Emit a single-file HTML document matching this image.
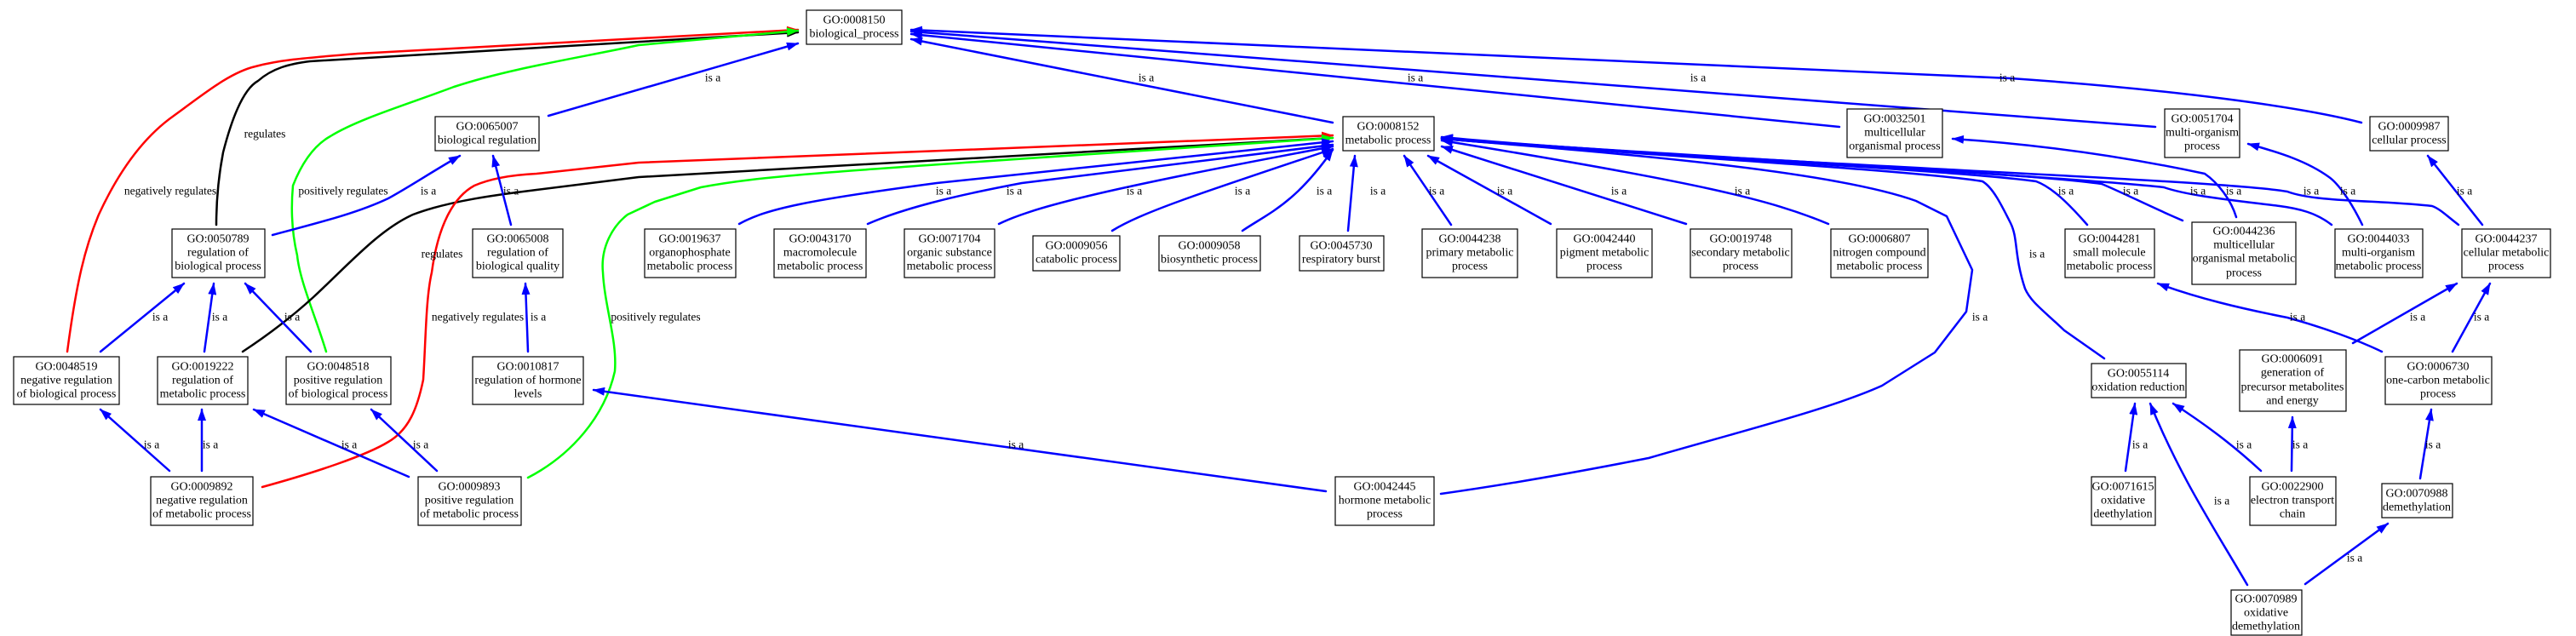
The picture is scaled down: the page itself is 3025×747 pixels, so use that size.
<!DOCTYPE html>
<html><head><meta charset="utf-8"><style>
html,body{margin:0;padding:0;background:#fff;}
svg{display:block;}
text{font-family:"Liberation Serif",serif;font-size:14px;fill:#000;}
.n rect{fill:#fff;stroke:#000;stroke-width:1.2;}
.n text{text-anchor:middle;dominant-baseline:central;}
.l{text-anchor:middle;dominant-baseline:central;font-size:13.5px;}
path{fill:none;stroke-width:2.5;stroke-linejoin:round;stroke-linecap:round;}
.b{stroke:#0000ff;} .r{stroke:#ff0000;} .g{stroke:#00ff00;} .k{stroke:#000;}
</style></head><body>
<svg width="3025" height="747" viewBox="0 0 3025 747" xmlns="http://www.w3.org/2000/svg">
<defs>
<marker id="mb" markerUnits="userSpaceOnUse" markerWidth="14" markerHeight="10" refX="13" refY="5" orient="auto"><path d="M0,0 L14,5 L0,10 z" style="fill:#0000ff;stroke:none"/></marker>
<marker id="mr" markerUnits="userSpaceOnUse" markerWidth="14" markerHeight="10" refX="13" refY="5" orient="auto"><path d="M0,0 L14,5 L0,10 z" style="fill:#ff0000;stroke:none"/></marker>
<marker id="mg" markerUnits="userSpaceOnUse" markerWidth="14" markerHeight="10" refX="13" refY="5" orient="auto"><path d="M0,0 L14,5 L0,10 z" style="fill:#00ff00;stroke:none"/></marker>
<marker id="mk" markerUnits="userSpaceOnUse" markerWidth="14" markerHeight="10" refX="13" refY="5" orient="auto"><path d="M0,0 L14,5 L0,10 z" style="fill:#000;stroke:none"/></marker>
</defs>

<!-- regulation edges to 0008150 -->
<path class="r" marker-end="url(#mr)" d="M79,413 C90,330 100,290 116,252 C140,200 170,160 204,136 C240,110 270,85 300,78 C330,70 360,68 420,63 L937,35"/>
<path class="k" marker-end="url(#mk)" d="M254,264 C254,230 258,200 262,179 C272,140 285,105 303,95 C320,80 340,75 364,72 L937,38"/>
<path class="g" marker-end="url(#mg)" d="M383,413 C370,370 352,330 349,300 C342,270 342,240 344,218 C355,190 370,170 388,160 C420,140 480,122 533,102 C600,80 680,68 750,53 L937,36"/>
<!-- regulation edges to 0008152 -->
<path class="k" marker-end="url(#mk)" d="M285,413 C320,390 345,370 368,349 C410,310 445,270 485,252 C530,235 590,228 630,223 L750,208 L1565,162"/>
<path class="r" marker-end="url(#mr)" d="M308,572 C370,555 430,535 456,519 C480,505 490,480 497,446 C500,400 500,350 507,320 C515,260 535,230 557,218 C580,208 610,205 630,204 L750,191 L1565,159"/>
<path class="g" marker-end="url(#mg)" d="M620,561 C670,535 710,490 722,436 C725,400 710,360 708,320 C705,290 720,265 737,252 L769,237 L823,220 C900,205 1000,200 1565,162"/>

<!-- is a edges left -->
<path class="b" marker-end="url(#mb)" d="M320,276 C380,260 420,250 456,233 C480,220 510,200 540,183"/>
<path class="b" marker-end="url(#mb)" d="M644,136 L937,51"/>
<path class="b" marker-end="url(#mb)" d="M600,264 L579,183"/>
<path class="b" marker-end="url(#mb)" d="M620,413 L617,333"/>
<path class="b" marker-end="url(#mb)" d="M118,413 L216,333"/>
<path class="b" marker-end="url(#mb)" d="M240,413 L251,333"/>
<path class="b" marker-end="url(#mb)" d="M365,413 L288,333"/>
<path class="b" marker-end="url(#mb)" d="M199,553 L118,481"/>
<path class="b" marker-end="url(#mb)" d="M237,553 L237,481"/>
<path class="b" marker-end="url(#mb)" d="M480,560 L298,481"/>
<path class="b" marker-end="url(#mb)" d="M513,553 L436,481"/>
<path class="b" marker-end="url(#mb)" d="M1557,577 L697,458"/>

<!-- to 0008150 from right -->
<path class="b" marker-end="url(#mb)" d="M1565,144 L1070,46"/>
<path class="b" marker-end="url(#mb)" d="M2160,149 L1070,40"/>
<path class="b" marker-end="url(#mb)" d="M2531,149 L1070,37"/>
<path class="b" marker-end="url(#mb)" d="M2773,144 C2700,125 2550,105 2361,92 L1070,35"/>

<!-- children of 0008152, left side -->
<path class="b" marker-end="url(#mb)" d="M868,263 C900,245 950,235 1100,215 L1565,166"/>
<path class="b" marker-end="url(#mb)" d="M1019,263 C1060,245 1120,230 1200,215 L1565,170"/>
<path class="b" marker-end="url(#mb)" d="M1173,263 C1210,245 1280,225 1565,172"/>
<path class="b" marker-end="url(#mb)" d="M1306,271 C1340,250 1400,230 1565,175"/>
<path class="b" marker-end="url(#mb)" d="M1459,271 C1490,250 1520,240 1565,176"/>
<path class="b" marker-end="url(#mb)" d="M1583,271 L1591,183"/>
<path class="b" marker-end="url(#mb)" d="M1704,264 L1649,183"/>
<path class="b" marker-end="url(#mb)" d="M1821,263 L1677,183"/>
<path class="b" marker-end="url(#mb)" d="M1980,263 L1693,172"/>
<path class="b" marker-end="url(#mb)" d="M2147,263 C2080,235 2000,215 1693,165"/>
<!-- right side into 0008152 -->
<path class="b" marker-end="url(#mb)" d="M1692,580 C1800,565 1900,545 1936,538 C2050,505 2150,480 2210,453 L2272,414 L2309,366 L2316,317 L2286,254 L2250,236 C2150,200 1900,180 1693,163"/>
<path class="b" marker-end="url(#mb)" d="M2471,421 L2424,388 C2400,365 2385,355 2378,339 C2365,300 2370,280 2361,262 C2350,240 2340,220 2328,213 C2250,200 1900,180 1693,163"/>
<path class="b" marker-end="url(#mb)" d="M2451,264 C2430,240 2410,220 2391,213 C2300,200 1900,180 1693,163"/>
<path class="b" marker-end="url(#mb)" d="M2563,259 C2530,245 2490,225 2468,216 C2350,200 1900,180 1693,162"/>
<path class="b" marker-end="url(#mb)" d="M2738,264 C2720,250 2700,245 2677,242 C2620,235 2570,230 2541,220 C2400,205 1900,180 1693,162"/>
<path class="b" marker-end="url(#mb)" d="M2887,264 C2875,255 2865,245 2856,242 C2800,235 2720,238 2686,225 C2600,210 2000,190 1693,161"/>
<!-- other right edges -->
<path class="b" marker-end="url(#mb)" d="M2626,255 C2620,235 2605,215 2589,204 C2500,185 2400,170 2293,163"/>
<path class="b" marker-end="url(#mb)" d="M2774,264 C2760,235 2745,215 2735,208 C2710,190 2680,180 2640,169"/>
<path class="b" marker-end="url(#mb)" d="M2915,264 L2851,183"/>
<path class="b" marker-end="url(#mb)" d="M2797,413 C2770,400 2730,385 2686,373 C2630,362 2580,350 2534,333"/>
<path class="b" marker-end="url(#mb)" d="M2763,403 L2885,333"/>
<path class="b" marker-end="url(#mb)" d="M2880,413 L2924,333"/>
<path class="b" marker-end="url(#mb)" d="M2496,553 L2507,474"/>
<path class="b" marker-end="url(#mb)" d="M2655,553 C2630,530 2600,505 2552,474"/>
<path class="b" marker-end="url(#mb)" d="M2691,553 L2692,490"/>
<path class="b" marker-end="url(#mb)" d="M2639,687 C2600,620 2560,560 2525,474"/>
<path class="b" marker-end="url(#mb)" d="M2842,562 L2855,481"/>
<path class="b" marker-end="url(#mb)" d="M2707,686 L2804,615"/>

<!-- edge labels -->
<g>
<text class="l" x="311" y="157">regulates</text>
<text class="l" x="200" y="224">negatively regulates</text>
<text class="l" x="403" y="224">positively regulates</text>
<text class="l" x="503" y="224">is a</text>
<text class="l" x="600" y="224">is a</text>
<text class="l" x="837" y="91">is a</text>
<text class="l" x="519" y="298">regulates</text>
<text class="l" x="561" y="372">negatively regulates</text>
<text class="l" x="632" y="372">is a</text>
<text class="l" x="770" y="372">positively regulates</text>
<text class="l" x="188" y="372">is a</text>
<text class="l" x="258" y="372">is a</text>
<text class="l" x="343" y="372">is a</text>
<text class="l" x="178" y="522">is a</text>
<text class="l" x="247" y="522">is a</text>
<text class="l" x="410" y="522">is a</text>
<text class="l" x="494" y="522">is a</text>
<text class="l" x="1193" y="522">is a</text>
<text class="l" x="1346" y="91">is a</text>
<text class="l" x="1662" y="91">is a</text>
<text class="l" x="1994" y="91">is a</text>
<text class="l" x="2357" y="91">is a</text>
<text class="l" x="1108" y="224">is a</text>
<text class="l" x="1191" y="224">is a</text>
<text class="l" x="1332" y="224">is a</text>
<text class="l" x="1459" y="224">is a</text>
<text class="l" x="1555" y="224">is a</text>
<text class="l" x="1618" y="224">is a</text>
<text class="l" x="1687" y="224">is a</text>
<text class="l" x="1767" y="224">is a</text>
<text class="l" x="1901" y="224">is a</text>
<text class="l" x="2046" y="224">is a</text>
<text class="l" x="2426" y="224">is a</text>
<text class="l" x="2502" y="224">is a</text>
<text class="l" x="2581" y="224">is a</text>
<text class="l" x="2623" y="224">is a</text>
<text class="l" x="2714" y="224">is a</text>
<text class="l" x="2757" y="224">is a</text>
<text class="l" x="2894" y="224">is a</text>
<text class="l" x="2392" y="298">is a</text>
<text class="l" x="2325" y="372">is a</text>
<text class="l" x="2698" y="372">is a</text>
<text class="l" x="2839" y="372">is a</text>
<text class="l" x="2914" y="372">is a</text>
<text class="l" x="2513" y="522">is a</text>
<text class="l" x="2635" y="522">is a</text>
<text class="l" x="2701" y="522">is a</text>
<text class="l" x="2857" y="522">is a</text>
<text class="l" x="2609" y="588">is a</text>
<text class="l" x="2765" y="655">is a</text>
</g>

<!-- nodes -->
<g class="n">
<rect x="947" y="12" width="112" height="40"/><text x="1003" y="24">GO:0008150</text><text x="1003" y="40">biological_process</text>
<rect x="511" y="137" width="122" height="40"/><text x="572" y="149">GO:0065007</text><text x="572" y="165">biological regulation</text>
<rect x="1577" y="137" width="107" height="40"/><text x="1630" y="149">GO:0008152</text><text x="1630" y="165">metabolic process</text>
<rect x="2169" y="128" width="112" height="57"/><text x="2225" y="140">GO:0032501</text><text x="2225" y="156">multicellular</text><text x="2225" y="172">organismal process</text>
<rect x="2542" y="128" width="88" height="57"/><text x="2586" y="140">GO:0051704</text><text x="2586" y="156">multi-organism</text><text x="2586" y="172">process</text>
<rect x="2783" y="137" width="92" height="40"/><text x="2829" y="149">GO:0009987</text><text x="2829" y="165">cellular process</text>

<rect x="202" y="269" width="109" height="57"/><text x="256" y="281">GO:0050789</text><text x="256" y="297">regulation of</text><text x="256" y="313">biological process</text>
<rect x="555" y="269" width="106" height="57"/><text x="608" y="281">GO:0065008</text><text x="608" y="297">regulation of</text><text x="608" y="313">biological quality</text>
<rect x="757" y="269" width="107" height="57"/><text x="810" y="281">GO:0019637</text><text x="810" y="297">organophosphate</text><text x="810" y="313">metabolic process</text>
<rect x="909" y="269" width="108" height="57"/><text x="963" y="281">GO:0043170</text><text x="963" y="297">macromolecule</text><text x="963" y="313">metabolic process</text>
<rect x="1062" y="269" width="106" height="57"/><text x="1115" y="281">GO:0071704</text><text x="1115" y="297">organic substance</text><text x="1115" y="313">metabolic process</text>
<rect x="1213" y="277" width="102" height="41"/><text x="1264" y="289">GO:0009056</text><text x="1264" y="305">catabolic process</text>
<rect x="1361" y="277" width="119" height="41"/><text x="1420" y="289">GO:0009058</text><text x="1420" y="305">biosynthetic process</text>
<rect x="1526" y="277" width="99" height="41"/><text x="1575" y="289">GO:0045730</text><text x="1575" y="305">respiratory burst</text>
<rect x="1670" y="269" width="112" height="57"/><text x="1726" y="281">GO:0044238</text><text x="1726" y="297">primary metabolic</text><text x="1726" y="313">process</text>
<rect x="1828" y="269" width="112" height="57"/><text x="1884" y="281">GO:0042440</text><text x="1884" y="297">pigment metabolic</text><text x="1884" y="313">process</text>
<rect x="1985" y="269" width="119" height="57"/><text x="2044" y="281">GO:0019748</text><text x="2044" y="297">secondary metabolic</text><text x="2044" y="313">process</text>
<rect x="2150" y="269" width="114" height="57"/><text x="2207" y="281">GO:0006807</text><text x="2207" y="297">nitrogen compound</text><text x="2207" y="313">metabolic process</text>
<rect x="2425" y="269" width="105" height="57"/><text x="2477" y="281">GO:0044281</text><text x="2477" y="297">small molecule</text><text x="2477" y="313">metabolic process</text>
<rect x="2574" y="261" width="122" height="73"/><text x="2635" y="272">GO:0044236</text><text x="2635" y="288">multicellular</text><text x="2635" y="304">organismal metabolic</text><text x="2635" y="321">process</text>
<rect x="2742" y="269" width="103" height="57"/><text x="2793" y="281">GO:0044033</text><text x="2793" y="297">multi-organism</text><text x="2793" y="313">metabolic process</text>
<rect x="2891" y="269" width="104" height="57"/><text x="2943" y="281">GO:0044237</text><text x="2943" y="297">cellular metabolic</text><text x="2943" y="313">process</text>

<rect x="16" y="419" width="124" height="56"/><text x="78" y="431">GO:0048519</text><text x="78" y="447">negative regulation</text><text x="78" y="463">of biological process</text>
<rect x="185" y="419" width="106" height="56"/><text x="238" y="431">GO:0019222</text><text x="238" y="447">regulation of</text><text x="238" y="463">metabolic process</text>
<rect x="336" y="419" width="123" height="56"/><text x="397" y="431">GO:0048518</text><text x="397" y="447">positive regulation</text><text x="397" y="463">of biological process</text>
<rect x="555" y="419" width="130" height="56"/><text x="620" y="431">GO:0010817</text><text x="620" y="447">regulation of hormone</text><text x="620" y="463">levels</text>
<rect x="2456" y="427" width="111" height="40"/><text x="2511" y="439">GO:0055114</text><text x="2511" y="455">oxidation reduction</text>
<rect x="2630" y="411" width="125" height="72"/><text x="2692" y="422">GO:0006091</text><text x="2692" y="438">generation of</text><text x="2692" y="455">precursor metabolites</text><text x="2692" y="471">and energy</text>
<rect x="2801" y="419" width="125" height="56"/><text x="2863" y="431">GO:0006730</text><text x="2863" y="447">one-carbon metabolic</text><text x="2863" y="463">process</text>

<rect x="177" y="560" width="120" height="57"/><text x="237" y="572">GO:0009892</text><text x="237" y="588">negative regulation</text><text x="237" y="604">of metabolic process</text>
<rect x="491" y="560" width="121" height="57"/><text x="551" y="572">GO:0009893</text><text x="551" y="588">positive regulation</text><text x="551" y="604">of metabolic process</text>
<rect x="1568" y="560" width="116" height="57"/><text x="1626" y="572">GO:0042445</text><text x="1626" y="588">hormone metabolic</text><text x="1626" y="604">process</text>
<rect x="2456" y="560" width="75" height="57"/><text x="2493" y="572">GO:0071615</text><text x="2493" y="588">oxidative</text><text x="2493" y="604">deethylation</text>
<rect x="2642" y="560" width="101" height="57"/><text x="2692" y="572">GO:0022900</text><text x="2692" y="588">electron transport</text><text x="2692" y="604">chain</text>
<rect x="2797" y="568" width="83" height="40"/><text x="2838" y="580">GO:0070988</text><text x="2838" y="596">demethylation</text>
<rect x="2620" y="693" width="83" height="53"/><text x="2661" y="704">GO:0070989</text><text x="2661" y="720">oxidative</text><text x="2661" y="736">demethylation</text>
</g>
</svg>
</body></html>
